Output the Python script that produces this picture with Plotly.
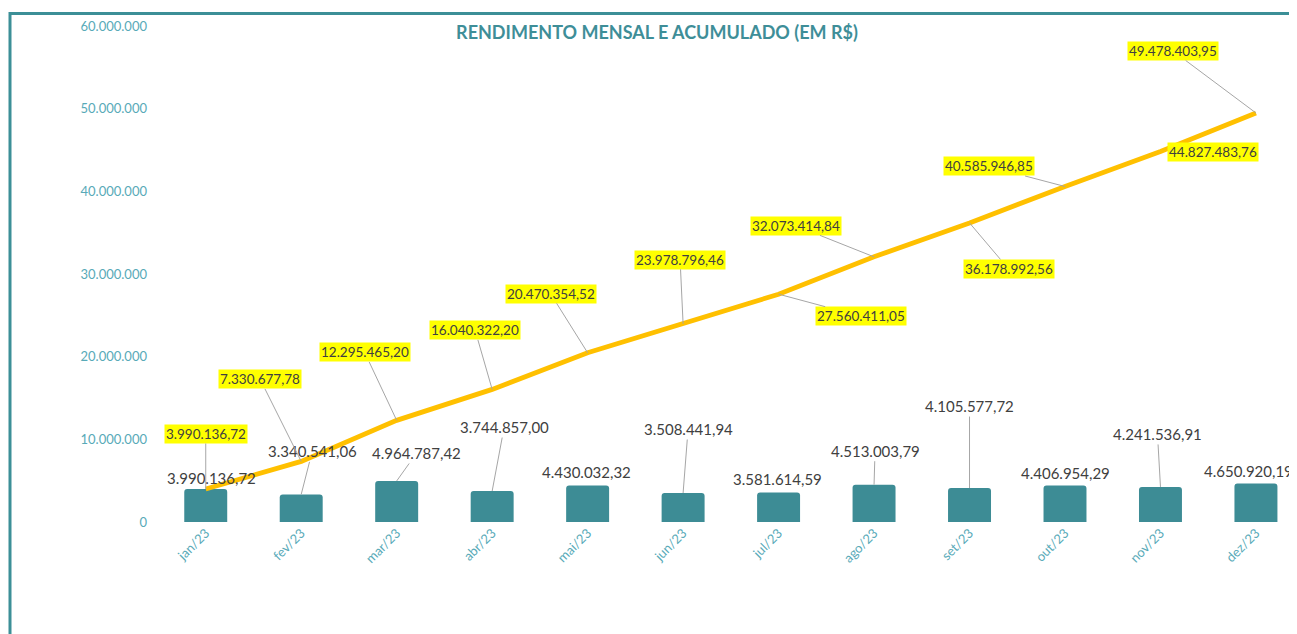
import plotly.graph_objects as go

months = ["jan/23", "fev/23", "mar/23", "abr/23", "mai/23", "jun/23",
          "jul/23", "ago/23", "set/23", "out/23", "nov/23", "dez/23"]
monthly = [3990136.72, 3340541.06, 4964787.42, 3744857.00, 4430032.32, 3508441.94,
           3581614.59, 4513003.79, 4105577.72, 4406954.29, 4241536.91, 4650920.19]
cumulative = [3990136.72, 7330677.78, 12295465.20, 16040322.20, 20470354.52, 23978796.46,
              27560411.05, 32073414.84, 36178992.56, 40585946.85, 44827483.76, 49478403.95]
y_ticks = [0, 10000000, 20000000, 30000000, 40000000, 50000000, 60000000]

# label placement (pixel offsets), styling only
bar_ax = [6, 11, 20, 12, -1, 5, -1, 1, 0, 0, -3, -7]
bar_ay = [-11, -43, -28, -64, -13, -64, -13, -34, -82, -13, -53, -13]
bar_leader = [False, True, True, True, False, True, False, True, True, False, True, False]
cum_ax = [0, -41, -32, -17, -37, -3, 82, -78, 39, -76, 53, -83]
cum_ay = [-55, -82, -68, -59, -59, -64, 22, -31, 46, -20, 1, -62]
cum_leader = [True, True, True, True, True, True, True, True, True, True, False, True]

TEAL = "#3D8C95"
TICK = "#58AAB8"
FONT = "Lato"

W, H = 1289, 626          # page body has an 8px margin
L, T, B = 150, 18, 112
PW, PH = W - L, H - T - B


def br(v):
    s = f"{v:,.2f}"
    return s.replace(",", "X").replace(".", ",").replace("X", ".")


fig = go.Figure()
fig.add_trace(go.Bar(x=months, y=monthly, width=0.45,
                     marker=dict(color=TEAL, cornerradius=3, line=dict(width=0)),
                     hoverinfo="skip"))
fig.add_trace(go.Scatter(x=months, y=cumulative, mode="lines",
                         line=dict(color="#FFC000", width=4.8), hoverinfo="skip"))

annos = []
for i, m in enumerate(months):
    annos.append(dict(x=m, y=monthly[i], xref="x", yref="y", text=br(monthly[i]),
                      showarrow=True, ax=bar_ax[i], ay=bar_ay[i], arrowhead=0,
                      arrowwidth=1,
                      arrowcolor="#A6A6A6" if bar_leader[i] else "rgba(0,0,0,0)",
                      font=dict(family=FONT, size=15, color="#404040")))
    annos.append(dict(x=m, y=cumulative[i], xref="x", yref="y", text=br(cumulative[i]),
                      showarrow=True, ax=cum_ax[i], ay=cum_ay[i], arrowhead=0,
                      arrowwidth=1,
                      arrowcolor="#A6A6A6" if cum_leader[i] else "rgba(0,0,0,0)",
                      bgcolor="#FFFF00", borderpad=1,
                      font=dict(family=FONT, size=13.5, color="#404040")))

fig.update_layout(
    width=W, height=H,
    margin=dict(l=L, r=0, t=T, b=B),
    paper_bgcolor="white", plot_bgcolor="white",
    separators=",.",
    showlegend=False,
    title=dict(text="<b>RENDIMENTO MENSAL E ACUMULADO (EM R$)</b>",
               x=649 / W, xanchor="center", y=1 - 25 / H, yanchor="middle",
               font=dict(family=FONT, size=18, color="#3E8E98")),
    xaxis=dict(range=[-0.5, 11.43], tickangle=-45, showgrid=False, showline=False,
               ticks="", tickfont=dict(family=FONT, size=13, color=TICK)),
    yaxis=dict(range=[0, 60000000], tickvals=y_ticks, tickformat=",d", showgrid=False,
               zeroline=False, showline=False, ticks="", ticklabelstandoff=10,
               tickfont=dict(family=FONT, size=13, color=TICK)),
    annotations=annos,
    shapes=[dict(type="rect", xref="paper", yref="paper",
                 x0=(2 - L) / PW, x1=(W + 20 - L) / PW,
                 y0=(T + PH - (H + 30)) / PH, y1=(T + PH - 5.5) / PH,
                 line=dict(color="#3C8F97", width=3), fillcolor="rgba(0,0,0,0)")],
)

fig.write_html("out.html")
